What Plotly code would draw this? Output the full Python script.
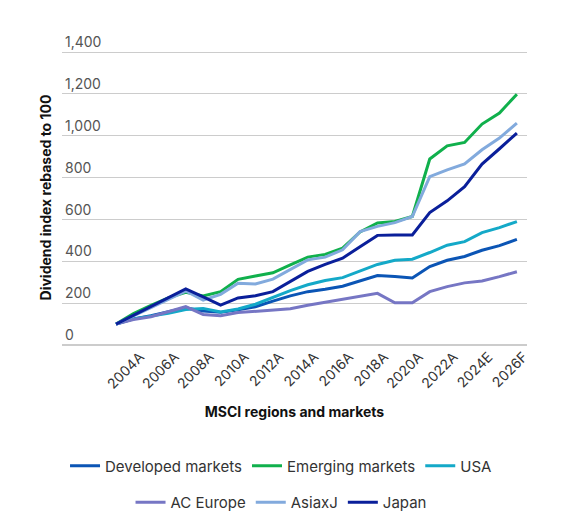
import plotly.graph_objects as go

# category labels (A = actual, E = estimate, F = forecast)
years = [f"{y}A" for y in range(2004, 2024)] + ["2024E", "2025E", "2026F", "2027F"]

developed = [100, 125, 140, 160, 178, 162, 156, 168, 183, 210, 235, 255, 266, 281, 308, 332,
             327, 320, 375, 405, 423, 453, 475, 505]
emerging = [100, 150, 190, 225, 252, 234, 255, 314, 330, 345, 383, 420, 433, 463, 540, 583,
            590, 614, 889, 952, 968, 1056, 1109, 1199]
usa = [100, 125, 138, 152, 170, 175, 158, 172, 195, 228, 260, 288, 308, 322, 352, 385,
       405, 410, 442, 477, 494, 537, 561, 590]
europe = [100, 122, 135, 160, 183, 146, 140, 155, 162, 167, 173, 190, 204, 218, 234, 247,
          202, 202, 255, 279, 297, 306, 327, 350]
asiaxj = [100, 140, 180, 220, 258, 215, 242, 295, 292, 315, 362, 407, 420, 455, 542, 567,
          585, 614, 805, 837, 865, 933, 989, 1061]
japan = [100, 142, 183, 225, 268, 230, 191, 225, 235, 255, 303, 352, 385, 415, 470, 524,
         526, 526, 633, 689, 757, 865, 938, 1013]

series = [
    ("Developed markets", developed, "#0b55b5", "legend"),
    ("Emerging markets", emerging, "#10b04c", "legend"),
    ("USA", usa, "#14a9c8", "legend"),
    ("AC Europe", europe, "#7676c4", "legend2"),
    ("AsiaxJ", asiaxj, "#82aadd", "legend2"),
    ("Japan", japan, "#0a1f9a", "legend2"),
]

font = "Inter, Roboto, sans-serif"

fig = go.Figure()
for name, vals, col, leg in series:
    fig.add_trace(go.Scatter(x=years, y=vals, name=name, mode="lines",
                             line=dict(color=col, width=3), legend=leg))

# page body adds an 8px offset, so margins are set 8px smaller on left/top
fig.update_layout(
    width=570, height=530,
    margin=dict(l=54, r=51, t=42, b=193),
    plot_bgcolor="white", paper_bgcolor="white",
    font=dict(family=font, size=14, color="#333333"),
    legend=dict(orientation="h", xref="container", yref="container",
                x=0.479, y=0.136, xanchor="center", yanchor="middle",
                font=dict(size=15, color="#333333"), itemwidth=30),
    legend2=dict(orientation="h", xref="container", yref="container",
                 x=0.479, y=0.067, xanchor="center", yanchor="middle",
                 font=dict(size=15, color="#333333"), itemwidth=30),
)

fig.update_xaxes(
    type="category", automargin=False,
    range=[-3.1, 23.58],
    tickmode="array", tickvals=years[::2],
    tickangle=-45, ticklabelshift=24,
    tickfont=dict(size=14, color="#333333"),
    showgrid=False, showline=False, ticks="",
    title=dict(text="<b>MSCI regions and markets</b>", font=dict(size=14, color="#111111"),
               standoff=16),
)

fig.update_yaxes(
    range=[0, 1410], dtick=200, tickformat=",", automargin=False,
    ticklabelposition="inside top", ticklabeloverflow="allow",
    tickfont=dict(size=14, color="#555555"),
    gridcolor="#cccccc", gridwidth=1, zeroline=True, zerolinecolor="#cccccc",
    showline=False, ticks="",
    title=dict(text="<b>Dividend index rebased to 100</b>", font=dict(size=14, color="#111111"),
               standoff=10),
)

fig.write_html("out.html")
